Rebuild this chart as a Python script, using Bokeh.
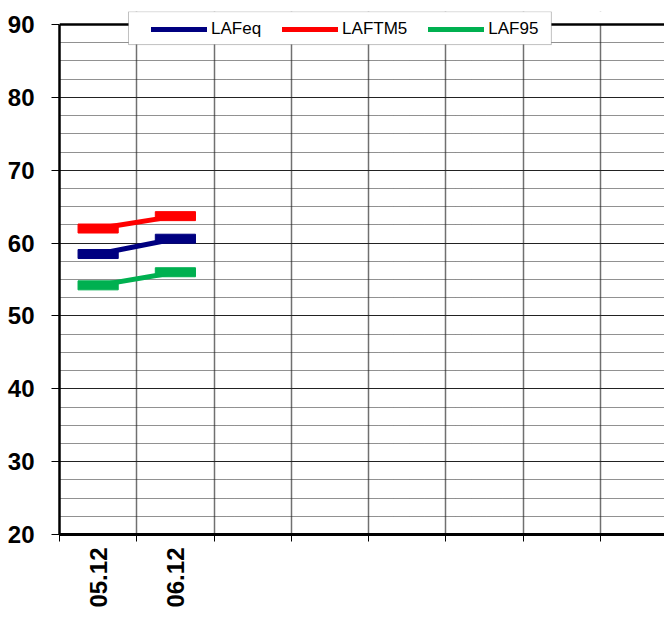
import math
from bokeh.plotting import figure
from bokeh.models import FixedTicker, Legend, LegendItem, Span, ColumnDataSource, BoxAnnotation
from bokeh.embed import file_html
from bokeh.resources import INLINE

# ---- data ----
dates = ["05.12", "06.12"]
lafeq = [58.5, 60.6]
laftm5 = [62.0, 63.7]
laf95 = [54.2, 56.0]
y_major = [20, 30, 40, 50, 60, 70, 80, 90]
n_slots = 8

xs = [i + 0.5 for i in range(len(dates))]
y_top = 91.79  # room above the 90 line so the legend can overlap the top border

p = figure(width=664, height=610, output_backend="svg", toolbar_location=None,
           x_range=(0, 7.83), y_range=(20, y_top),
           min_border_left=59, min_border_top=11, min_border_right=0, min_border_bottom=0)
p.outline_line_color = None
p.background_fill_color = "white"
p.border_fill_color = "white"

# axes
p.yaxis.ticker = FixedTicker(ticks=y_major,
                             minor_ticks=[v + d for v in y_major[:-1] for d in (2.5, 5, 7.5)])
p.yaxis.bounds = (20, 90)
p.yaxis.axis_line_width = 2.5
p.yaxis.axis_line_color = "black"
p.yaxis.major_tick_out = 8
p.yaxis.major_tick_in = 0
p.yaxis.minor_tick_line_color = None
p.yaxis.major_label_standoff = 17
p.yaxis.major_label_text_font = "Liberation Sans"
p.yaxis.major_label_text_font_style = "bold"
p.yaxis.major_label_text_font_size = "24px"
p.yaxis.major_label_text_color = "black"

p.xaxis.ticker = FixedTicker(ticks=xs, minor_ticks=list(range(0, n_slots + 1)))
p.xaxis.major_label_overrides = {x: d for x, d in zip(xs, dates)}
p.xaxis.major_label_orientation = math.pi / 2
p.xaxis.axis_line_width = 3
p.xaxis.axis_line_color = "black"
p.xaxis.major_tick_line_color = None
p.xaxis.minor_tick_out = 7
p.xaxis.minor_tick_in = 0
p.xaxis.minor_tick_line_color = "black"
p.xaxis.minor_tick_line_width = 1
p.xaxis.major_label_standoff = 6
p.xaxis.major_label_text_font = "Liberation Sans"
p.xaxis.major_label_text_font_style = "bold"
p.xaxis.major_label_text_font_size = "24px"
p.xaxis.major_label_text_color = "black"

# grids
p.xgrid.ticker = FixedTicker(ticks=list(range(0, n_slots + 1)))
p.xgrid.grid_line_color = "#707070"
p.xgrid.grid_line_width = 1.5
p.ygrid.grid_line_color = "#222222"
p.ygrid.grid_line_width = 1
p.ygrid.minor_grid_line_color = "#222222"
p.ygrid.minor_grid_line_dash = "1 1"
p.ygrid.minor_grid_line_width = 1

# white cover above the 90 line, then the thick top border
p.add_layout(BoxAnnotation(bottom=90, fill_color="white", fill_alpha=1, line_color=None))
p.add_layout(Span(location=90, dimension="width", line_color="black", line_width=2.5))
# legend frame
p.add_layout(BoxAnnotation(left=0.893, right=6.366, bottom=87.25, top=y_top - 0.02,
                           fill_color="white", fill_alpha=1,
                           line_color="#333333", line_width=1))

series = [("LAFeq", lafeq, "#000080"), ("LAFTM5", laftm5, "#FF0000"), ("LAF95", laf95, "#00B050")]
items = []
for name, vals, col in series:
    src = ColumnDataSource(dict(x=xs, y=vals))
    r = p.line("x", "y", source=src, line_color=col, line_width=5, line_cap="round")
    p.rect("x", "y", source=src, width=0.52, height=9, height_units="screen",
           fill_color=col, line_color=col)
    items.append(LegendItem(label=name, renderers=[r]))

legend = Legend(items=items, orientation="horizontal", location=(92, 495),
                glyph_width=56, glyph_height=20, label_height=20, label_standoff=4, spacing=21,
                padding=6, margin=0,
                label_text_font="Liberation Sans", label_text_font_size="17px",
                label_text_color="black",
                border_line_color=None,
                background_fill_alpha=0)
p.add_layout(legend, "center")

open("out.html", "w").write(file_html(p, INLINE))
